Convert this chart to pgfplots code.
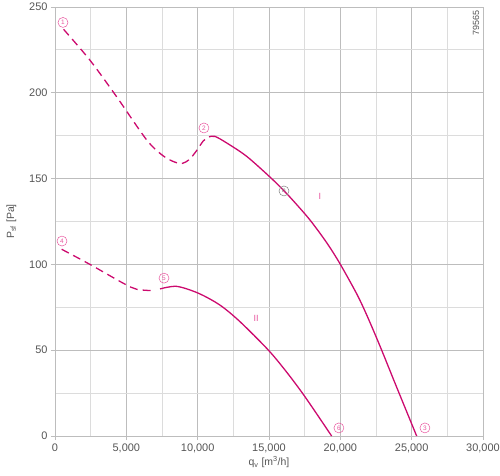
\documentclass[border=0pt]{standalone}
\usepackage{fontspec}
\setmainfont{Liberation Sans}
\usepackage{pgfplots}
\pgfplotsset{compat=1.18}
\definecolor{curve}{HTML}{CC0A6E}
\definecolor{lab}{HTML}{E8559E}
\definecolor{majg}{HTML}{BDBDBD}
\definecolor{ming}{HTML}{DCDCDC}
\definecolor{txt}{HTML}{555555}
\begin{document}
\begin{tikzpicture}
\path[use as bounding box] (-55bp,-40bp) rectangle (445bp,436bp);
\begin{axis}[
  scale only axis, width=428bp, height=429bp,
  xmin=0, xmax=30000, ymin=0, ymax=250,
  scaled x ticks=false,
  xtick={0,5000,10000,15000,20000,25000,30000},
  xticklabels={0,{5,000},{10,000},{15,000},{20,000},{25,000},{30,000}},
  ytick={0,50,100,150,200,250},
  minor tick num=1,
  grid=both,
  major grid style={majg, line width=0.9pt},
  minor grid style={ming, line width=0.9pt},
  axis line style={majg, line width=0.9pt},
  tick style={majg, line width=0.9pt},
  major tick length=4bp, minor tick length=0pt,
  tick align=outside,
  axis x line*=bottom, axis y line*=left,
  tick label style={txt, font=\fontsize{11}{13}\selectfont},
  /pgf/number format/assume math mode=true,
  xlabel={q\textsubscript{v} [m\textsuperscript{3}/h]},
  ylabel={P\textsubscript{sf} [Pa]},
  label style={txt, font=\fontsize{10.5}{12}\selectfont},
  xlabel style={yshift=3bp},
  ylabel style={yshift=6bp},
  clip=false,
]
% upper grid border lines
\draw[majg, line width=0.9pt] (axis cs:0,250) -- (axis cs:30000,250) -- (axis cs:30000,0);
% Curve I dashed
\addplot[curve, line width=1.3pt, smooth, dash pattern=on 8bp off 5bp] coordinates {
(600,237) (2450,219) (4320,197.7) (6430,172.5) (7590,163.2) (8400,159.6) (8900,158.8) (9400,161) (9900,166) (10400,172) (10800,174.3)};
% Curve I solid
\addplot[curve, line width=1.3pt, smooth] coordinates {
(10800,174.3) (11210,174.6) (12030,170.8) (13430,163.0) (15070,150.9) (16000,143.3) (16700,137.1) (17870,125.9) (19040,112.7) (19975,100.4) (21150,82.8) (21850,70.5) (22780,52.4) (23950,28.4) (25350,0)};
% Curve II dashed
\addplot[curve, line width=1.3pt, smooth, dash pattern=on 8bp off 5bp] coordinates {
(470,108.8) (2450,100) (4790,89) (5730,85.5) (6890,84.7)};
% Curve II solid
\addplot[curve, line width=1.3pt, smooth] coordinates {
(7360,85.7) (8530,87.2) (10050,83.2) (11560,76.3) (12970,66.6) (14950,50.1) (16240,37.2) (17520,22.9) (19390,0)};
% labels
\tikzset{cl/.style={circle, draw=lab, text=lab, inner sep=0.6pt, minimum size=10bp, line width=0.5pt, font=\fontsize{6.5}{6.5}\selectfont}}
\node[cl] at (axis cs:560,241) {1};
\node[cl] at (axis cs:10440,179.5) {2};
\node[cl] at (axis cs:25930,4.7) {3};
\node[cl] at (axis cs:490,113.6) {4};
\node[cl] at (axis cs:7640,92) {5};
\node[cl] at (axis cs:19900,4.7) {6};
\node[cl, draw=gray, text=gray] at (axis cs:16050,142.8) {n};
\node[lab, font=\fontsize{9}{9}\selectfont] at (axis cs:18570,139.9) {I};
\node[lab, font=\fontsize{9}{9}\selectfont] at (axis cs:14090,68.8) {II};
\node[txt, rotate=90, font=\fontsize{9}{9}\selectfont] at (axis cs:29510,240.7) {79565};
\end{axis}
\end{tikzpicture}
\end{document}
